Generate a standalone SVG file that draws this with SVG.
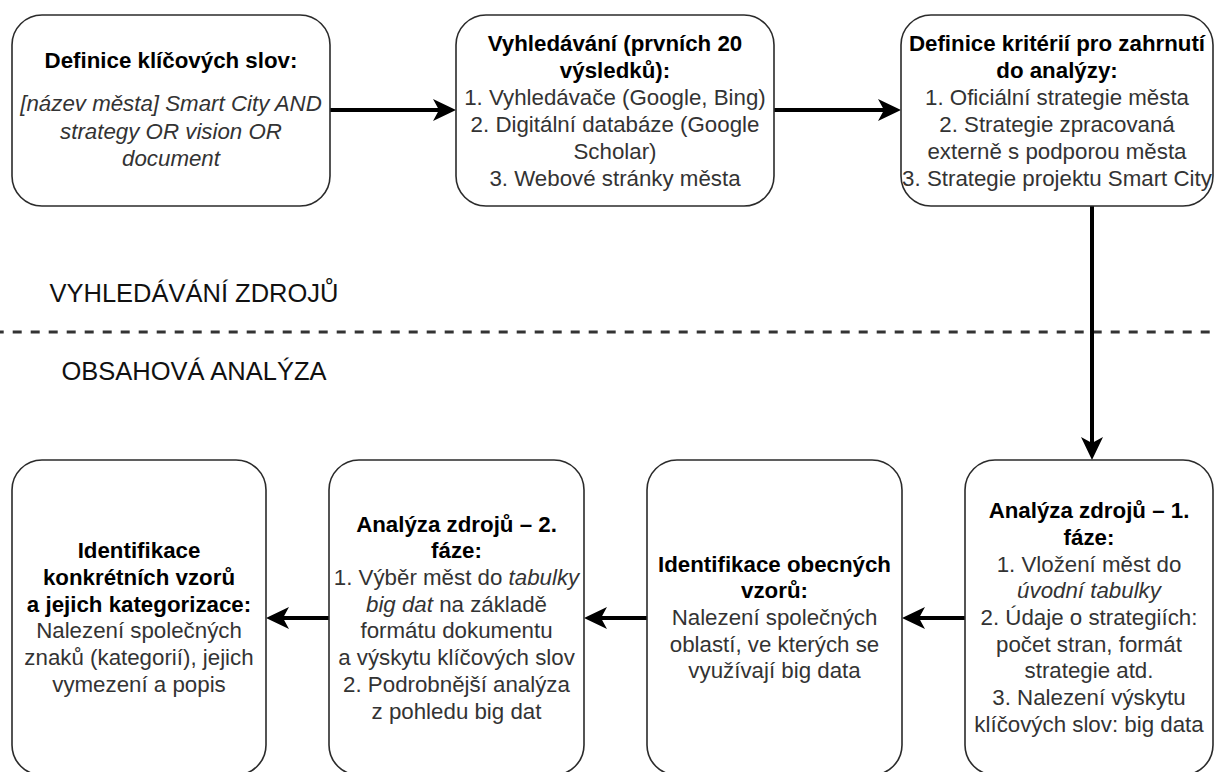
<svg xmlns="http://www.w3.org/2000/svg" width="1216" height="772" viewBox="0 0 1216 772">
  <style>
    .box { fill: #ffffff; stroke: #2b2b2b; stroke-width: 1.6; }
    .t { font-family: "Liberation Sans", Arial, Helvetica, sans-serif; font-size: 22.3px; fill: #333333; text-anchor: middle; }
    .b { font-weight: bold; fill: #000000; }
    .i { font-style: italic; }
    .edge { stroke: #000000; stroke-width: 4; fill: none; }
    .lbl { font-family: "Liberation Sans", Arial, Helvetica, sans-serif; font-size: 25.5px; fill: #111111; text-anchor: middle; }
  </style>
  <defs>
    <marker id="arrow" markerUnits="userSpaceOnUse" markerWidth="26" markerHeight="26" viewBox="-1 -13 26 26" refX="6" refY="0" orient="auto">
      <path d="M23,0 L0,-11 L6,0 L0,11 Z" fill="#000000"/>
    </marker>
  </defs>

  <rect width="1216" height="772" fill="#ffffff"/>

  <!-- phase separator and phase labels -->
  <g id="separator">
    <line x1="0" y1="332" x2="1216" y2="332" stroke="#333333" stroke-width="3" stroke-dasharray="9 9" stroke-dashoffset="5.3"/>
    <text class="lbl" x="194" y="302">VYHLEDÁVÁNÍ ZDROJŮ</text>
    <text class="lbl" x="194" y="380">OBSAHOVÁ ANALÝZA</text>
  </g>

  <!-- connectors -->
  <g id="connectors">
    <line class="edge" x1="330" y1="110" x2="439" y2="110" marker-end="url(#arrow)"/>
    <line class="edge" x1="774" y1="110" x2="884" y2="110" marker-end="url(#arrow)"/>
    <line class="edge" x1="1092" y1="206" x2="1092" y2="443" marker-end="url(#arrow)"/>
    <line class="edge" x1="965" y1="618" x2="919" y2="618" marker-end="url(#arrow)"/>
    <line class="edge" x1="647" y1="618" x2="601" y2="618" marker-end="url(#arrow)"/>
    <line class="edge" x1="329" y1="618" x2="283" y2="618" marker-end="url(#arrow)"/>
  </g>

  <!-- top row -->
  <g id="keywords">
    <rect class="box" x="12" y="15" width="318" height="191" rx="30" ry="30"/>
    <text class="t" x="171" y="68"><tspan class="b">Definice klíčových slov:</tspan></text>
    <text class="t i" x="171" y="111">[název města] Smart City AND</text>
    <text class="t i" x="171" y="139">strategy OR vision OR</text>
    <text class="t i" x="171" y="166">document</text>
  </g>

  <g id="search">
    <rect class="box" x="456" y="15" width="318" height="191" rx="30" ry="30"/>
    <text class="t b" x="615" y="51">Vyhledávání (prvních 20</text>
    <text class="t b" x="615" y="78">výsledků):</text>
    <text class="t" x="615" y="105">1. Vyhledávače (Google, Bing)</text>
    <text class="t" x="615" y="132">2. Digitální databáze (Google</text>
    <text class="t" x="615" y="159">Scholar)</text>
    <text class="t" x="615" y="186">3. Webové stránky města</text>
  </g>

  <g id="criteria">
    <rect class="box" x="901" y="15" width="312" height="191" rx="30" ry="30"/>
    <text class="t b" x="1057" y="51">Definice kritérií pro zahrnutí</text>
    <text class="t b" x="1057" y="78">do analýzy:</text>
    <text class="t" x="1057" y="105">1. Oficiální strategie města</text>
    <text class="t" x="1057" y="132">2. Strategie zpracovaná</text>
    <text class="t" x="1057" y="159">externě s podporou města</text>
    <text class="t" x="1057" y="186">3. Strategie projektu Smart City</text>
  </g>

  <!-- bottom row -->
  <g id="analysis1">
    <rect class="box" x="965" y="460" width="248" height="315" rx="30" ry="30"/>
    <text class="t b" x="1089" y="518.2">Analýza zdrojů – 1.</text>
    <text class="t b" x="1089" y="544.9">fáze:</text>
    <text class="t" x="1089" y="571.6">1. Vložení měst do</text>
    <text class="t i" x="1089" y="598.3">úvodní tabulky</text>
    <text class="t" x="1089" y="625">2. Údaje o strategiích:</text>
    <text class="t" x="1089" y="651.7">počet stran, formát</text>
    <text class="t" x="1089" y="678.4">strategie atd.</text>
    <text class="t" x="1089" y="705.1">3. Nalezení výskytu</text>
    <text class="t" x="1089" y="731.8">klíčových slov: big data</text>
  </g>

  <g id="general-patterns">
    <rect class="box" x="647" y="460" width="255" height="315" rx="30" ry="30"/>
    <text class="t b" x="774.5" y="571.6">Identifikace obecných</text>
    <text class="t b" x="774.5" y="598.3">vzorů:</text>
    <text class="t" x="774.5" y="625">Nalezení společných</text>
    <text class="t" x="774.5" y="651.7">oblastí, ve kterých se</text>
    <text class="t" x="774.5" y="678.4">využívají big data</text>
  </g>

  <g id="analysis2">
    <rect class="box" x="329" y="460" width="255" height="315" rx="30" ry="30"/>
    <text class="t b" x="456.5" y="531.5">Analýza zdrojů – 2.</text>
    <text class="t b" x="456.5" y="558.2">fáze:</text>
    <text class="t" x="456.5" y="584.9">1. Výběr měst do <tspan class="i">tabulky</tspan></text>
    <text class="t" x="456.5" y="611.6"><tspan class="i">big dat</tspan> na základě</text>
    <text class="t" x="456.5" y="638.4">formátu dokumentu</text>
    <text class="t" x="456.5" y="665.1">a výskytu klíčových slov</text>
    <text class="t" x="456.5" y="691.8">2. Podrobnější analýza</text>
    <text class="t" x="456.5" y="718.5">z pohledu big dat</text>
  </g>

  <g id="specific-patterns">
    <rect class="box" x="12" y="460" width="254" height="315" rx="30" ry="30"/>
    <text class="t b" x="139" y="558.2">Identifikace</text>
    <text class="t b" x="139" y="584.9">konkrétních vzorů</text>
    <text class="t b" x="139" y="611.6">a jejich kategorizace:</text>
    <text class="t" x="139" y="638.4">Nalezení společných</text>
    <text class="t" x="139" y="665.1">znaků (kategorií), jejich</text>
    <text class="t" x="139" y="691.8">vymezení a popis</text>
  </g>
</svg>
